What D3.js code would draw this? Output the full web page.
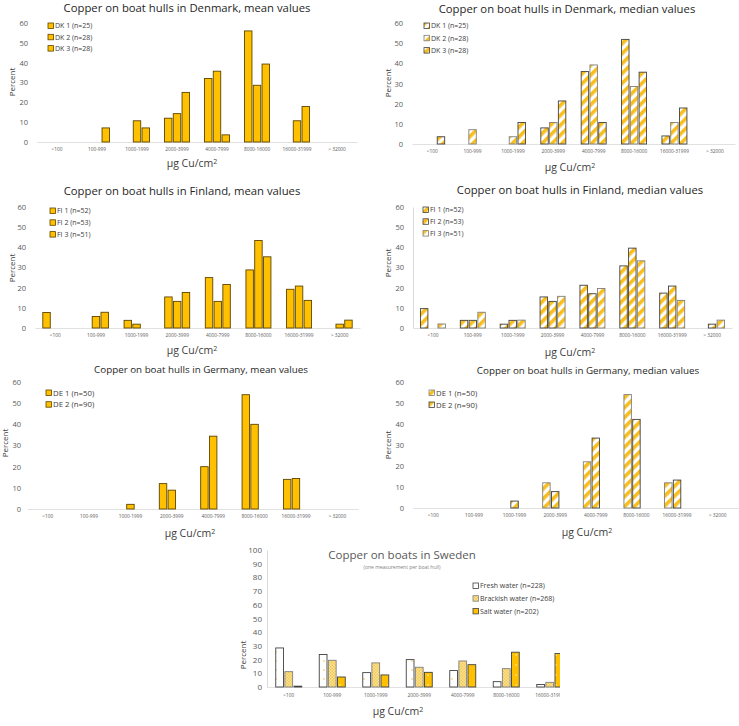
<!DOCTYPE html>
<html><head><meta charset="utf-8">
<script src="https://cdn.jsdelivr.net/npm/d3@7"></script>
<style>
html,body{margin:0;padding:0;background:#fff;}
svg text{font-family:"Open Sans",Lato,sans-serif;font-weight:400;}
</style></head>
<body>
<script>
// ---------- DATA ----------
const categories = ["<100","100-999","1000-1999","2000-3999","4000-7999","8000-16000","16000-31999","> 32000"];
const categoriesSE = ["<100","100-999","1000-1999","2000-3999","4000-7999","8000-16000","16000-31999","> 32000"];
const yTicks60 = [0,10,20,30,40,50,60];
const yTicks100 = [0,10,20,30,40,50,60,70,80,90,100];

const dkSeries = ["DK 1 (n=25)","DK 2 (n=28)","DK 3 (n=28)"];
const dkMean1 = [0,0,0,12,32,56,0,0];
const dkMean2 = [0,0,10.7,14.3,35.7,28.6,10.7,0];
const dkMean3 = [0,7.1,7.1,25,3.6,39.3,17.9,0];
const dkMed1 = [0,0,0,8,36,52,4,0];
const dkMed2 = [0,7.1,3.6,10.7,39.3,28.6,10.7,0];
const dkMed3 = [3.6,0,10.7,21.4,10.7,35.7,17.9,0];

const fiSeries = ["FI 1 (n=52)","FI 2 (n=53)","FI 3 (n=51)"];
const fiMean1 = [7.7,0,3.8,15.4,25,28.8,19.2,0];
const fiMean2 = [0,5.7,1.9,13.2,13.2,43.4,20.8,1.9];
const fiMean3 = [0,7.8,0,17.6,21.6,35.3,13.7,3.9];
const fiMed1 = [9.6,3.8,1.9,15.4,21.2,30.8,17.3,0];
const fiMed2 = [0,3.8,3.8,13.2,17,39.6,20.8,1.9];
const fiMed3 = [2,7.8,3.9,15.7,19.6,33.3,13.7,3.9];

const deSeries = ["DE 1 (n=50)","DE 2 (n=90)"];
const deMean1 = [0,0,0,12,20,54,14,0];
const deMean2 = [0,0,2.2,8.9,34.4,40,14.4,0];
const deMed1 = [0,0,0,12,22,54,12,0];
const deMed2 = [0,0,3.3,7.8,33.3,42.2,13.3,0];

const seSeries = ["Fresh water (n=228)","Brackish water (n=268)","Salt water (n=202)"];
const seFresh = [28.5,23.7,10.5,20,12,3.9,1.8,0];
const seBrackish = [11.2,19.5,17.6,14.4,19,13.4,3.4,1.5];
const seSalt = [0.6,7.3,8.8,10.7,16.3,25.4,24.4,6.5];

// ---------- DRAW ----------
const W = 739, H = 726;
const FONT = '"Open Sans",Lato,sans-serif';
const svg = d3.select("body").append("svg").attr("width", W).attr("height", H);
const defs = svg.append("defs");
const GOLD = "#FFC000";

function stripe(id) {
  const p = defs.append("pattern").attr("id", id).attr("patternUnits","userSpaceOnUse")
    .attr("width",7).attr("height",7).attr("patternTransform","rotate(45)");
  p.append("rect").attr("width",7).attr("height",7).attr("fill","#fff");
  p.append("rect").attr("width",3.6).attr("height",7).attr("fill","#F7BE1E");
}
stripe("stripe");
(function(){
  const p = defs.append("pattern").attr("id","dotsW").attr("patternUnits","userSpaceOnUse").attr("width",8).attr("height",9);
  p.append("rect").attr("width",8).attr("height",9).attr("fill","#fff");
  p.append("circle").attr("cx",4).attr("cy",4).attr("r",0.7).attr("fill","#F2B600");
  const q = defs.append("pattern").attr("id","check").attr("patternUnits","userSpaceOnUse").attr("width",3).attr("height",3);
  q.append("rect").attr("width",3).attr("height",3).attr("fill","#FBE3A0");
  q.append("rect").attr("width",1.5).attr("height",1.5).attr("fill","#F2C94C");
  q.append("rect").attr("x",1.5).attr("y",1.5).attr("width",1.5).attr("height",1.5).attr("fill","#F2C94C");
  const r = defs.append("pattern").attr("id","dotsG").attr("patternUnits","userSpaceOnUse").attr("width",8).attr("height",10);
  r.append("rect").attr("width",8).attr("height",10).attr("fill",GOLD);
  r.append("circle").attr("cx",4).attr("cy",5).attr("r",0.7).attr("fill","#fff");
})();

function panel(p) {
  const g = svg.append("g");
  if (p.clip) {
    const cid = "clip" + Math.round(p.x0);
    defs.append("clipPath").attr("id", cid).append("rect")
      .attr("x", 0).attr("y", 0).attr("width", p.clip).attr("height", H);
    g.attr("clip-path", `url(#${cid})`);
  }
  const x = d3.scaleBand().domain(p.cats).range([p.x0, p.x1]);
  const y = d3.scaleLinear().domain([0, p.ymax]).range([p.y0, p.yTop]);
  const gw = p.groupW;
  const xs = d3.scaleBand().domain(d3.range(p.slots)).range([(x.bandwidth()-gw)/2, (x.bandwidth()+gw)/2]).paddingInner(p.padIn || 0.15);

  // axes
  const ya = g.append("g").attr("transform", `translate(${p.x0},0)`)
    .call(d3.axisLeft(y).tickValues(p.yticks).tickSize(0).tickPadding(p.tickPad || 9));
  ya.select(".domain").attr("stroke", p.yline ? "#d9d9d9" : "none");
  ya.selectAll("text").attr("fill","#595959").style("font-size", (p.yfs||7.5)+"px").style("font-family",FONT);

  const xa = g.append("g").attr("transform", `translate(0,${p.y0})`)
    .call(d3.axisBottom(x).tickSize(0).tickPadding(p.xPad || 6));
  xa.select(".domain").attr("stroke","#d9d9d9").attr("stroke-width",0.8);
  xa.selectAll("text").attr("fill","#595959").style("font-size", (p.xfs||4.8)+"px").style("font-family",FONT);

  // bars
  p.series.forEach((s, si) => {
    g.append("g").selectAll("rect").data(s.values.map((v,i)=>({v, c:p.cats[i]})).filter(d=>d.v>0))
      .join("rect")
      .attr("x", d => x(d.c) + xs(si))
      .attr("width", xs.bandwidth())
      .attr("y", d => y(d.v))
      .attr("height", d => y(0) - y(d.v))
      .attr("fill", s.fill)
      .attr("stroke", s.stroke)
      .attr("stroke-width", 0.9);
  });

  // legend
  p.series.forEach((s, si) => {
    const ly = p.legY + si * p.legDy;
    g.append("rect").attr("x", p.legX).attr("y", ly - 3).attr("width", 5.5).attr("height", 5.5)
      .attr("fill", s.fill).attr("stroke", s.stroke).attr("stroke-width", 0.8);
    g.append("text").attr("x", p.legX + 7).attr("y", ly).attr("dy","0.35em")
      .style("font-size", (p.legFs||7)+"px").attr("fill","#404040").text(s.name);
  });

  // title
  g.append("text").attr("x", p.titleX).attr("y", p.titleY).attr("text-anchor","middle").attr("dy","0.35em")
    .style("font-size", p.titleFs + "px").attr("fill", p.titleColor || "#262626").text(p.title);
  if (p.subtitle) {
    g.append("text").attr("x", p.titleX).attr("y", p.subY).attr("text-anchor","middle").attr("dy","0.35em")
      .style("font-size","5px").attr("fill","#7f7f7f").text(p.subtitle);
  }
  // axis titles
  g.append("text").attr("transform", `translate(${p.pctX},${p.pctY}) rotate(-90)`).attr("text-anchor","middle")
    .attr("dy","0.35em").style("font-size", (p.pctFs||8)+"px").attr("fill","#404040").text("Percent");
  const xt = g.append("text").attr("x", p.xtX).attr("y", p.xtY).attr("text-anchor","middle").attr("dy","0.35em")
    .style("font-size", "10.5px").attr("fill","#404040");
  xt.append("tspan").text("µg Cu/cm");
  xt.append("tspan").attr("dy","-0.4em").style("font-size","7px").text("2");
}

const meanStyle = (vals, names) => vals.map((v,i)=>({name:names[i], values:v, fill:GOLD, stroke:"#5c4500"}));

panel({cats: categories, x0: 37, x1: 357, y0: 142, yTop: 23, ymax: 60, yticks: yTicks60,
  slots: 3, groupW: 25, series: meanStyle([dkMean1,dkMean2,dkMean3], dkSeries),
  legX: 48, legY: 26, legDy: 11.3, title: "Copper on boat hulls in Denmark, mean values",
  titleX: 187, titleY: 8, titleFs: 11.3, pctX: 12, pctY: 82, xtX: 192, xtY: 163});

panel({cats: categories, x0: 412, x1: 735, y0: 144, yTop: 23.3, ymax: 60, yticks: yTicks60,
  slots: 3, groupW: 25,
  series: [
    {name: dkSeries[0], values: dkMed1, fill:"url(#stripe)", stroke:"#404040"},
    {name: dkSeries[1], values: dkMed2, fill:"url(#stripe)", stroke:"#7f7f7f"},
    {name: dkSeries[2], values: dkMed3, fill:"url(#stripe)", stroke:"#404040"}],
  legX: 424, legY: 26, legDy: 12.3, title: "Copper on boat hulls in Denmark, median values",
  titleX: 567, titleY: 9, titleFs: 11.3, pctX: 388, pctY: 83, xtX: 570, xtY: 167});

panel({cats: categories, x0: 35, x1: 360, y0: 328, yTop: 207, ymax: 60, yticks: yTicks60,
  slots: 3, groupW: 25, series: meanStyle([fiMean1,fiMean2,fiMean3], fiSeries),
  legX: 50, legY: 211, legDy: 11.8, title: "Copper on boat hulls in Finland, mean values",
  titleX: 182, titleY: 191, titleFs: 11.3, pctX: 12, pctY: 268, xtX: 192, xtY: 350});

panel({cats: categories, x0: 413, x1: 732, y0: 328, yTop: 207, ymax: 60, yticks: yTicks60,
  slots: 3, groupW: 25, yline: true,
  series: [
    {name: fiSeries[0], values: fiMed1, fill:"url(#stripe)", stroke:"#404040"},
    {name: fiSeries[1], values: fiMed2, fill:"url(#stripe)", stroke:"#404040"},
    {name: fiSeries[2], values: fiMed3, fill:"url(#stripe)", stroke:"#7f7f7f"}],
  legX: 423, legY: 210, legDy: 11.8, title: "Copper on boat hulls in Finland, median values",
  titleX: 580, titleY: 190, titleFs: 11.3, pctX: 388, pctY: 263, xtX: 570, xtY: 352});

panel({cats: categories, x0: 27, x1: 358, y0: 509, yTop: 382, ymax: 60, yticks: yTicks60,
  slots: 3, groupW: 25, series: meanStyle([deMean1,deMean2], deSeries),
  legX: 46, legY: 393, legDy: 11.7, legFs: 7.8, title: "Copper on boat hulls in Germany, mean values",
  titleX: 201, titleY: 370, titleFs: 9.8, pctX: 5, pctY: 443, xtX: 190, xtY: 533, tickPad: 6});

panel({cats: categories, x0: 413, x1: 738, y0: 508, yTop: 382, ymax: 60, yticks: yTicks60,
  slots: 3, groupW: 25,
  series: [
    {name: deSeries[0], values: deMed1, fill:"url(#stripe)", stroke:"#7f7f7f"},
    {name: deSeries[1], values: deMed2, fill:"url(#stripe)", stroke:"#404040"}],
  legX: 429, legY: 393, legDy: 12, legFs: 7.8, title: "Copper on boat hulls in Germany, median values",
  titleX: 588, titleY: 371, titleFs: 9.8, pctX: 388, pctY: 445, xtX: 587, xtY: 532});

panel({cats: categoriesSE, x0: 267, x1: 615, y0: 687, yTop: 550, ymax: 100, yticks: yTicks100,
  slots: 3, groupW: 26, yline: true, yfs: 8, clip: 560, tickPad: 5,
  series: [
    {name: seSeries[0], values: seFresh, fill:"url(#dotsW)", stroke:"#404040"},
    {name: seSeries[1], values: seBrackish, fill:"url(#check)", stroke:"#7f7f7f"},
    {name: seSeries[2], values: seSalt, fill:"url(#dotsG)", stroke:"#404040"}],
  legX: 473, legY: 586, legDy: 12.7, title: "Copper on boats in Sweden", titleColor: "#595959",
  subtitle: "(one measurement per boat hull)", subY: 567,
  titleX: 402, titleY: 555, titleFs: 11.5, pctX: 243, pctY: 655, xtX: 398, xtY: 711, xPad: 7});
</script>
</body></html>
